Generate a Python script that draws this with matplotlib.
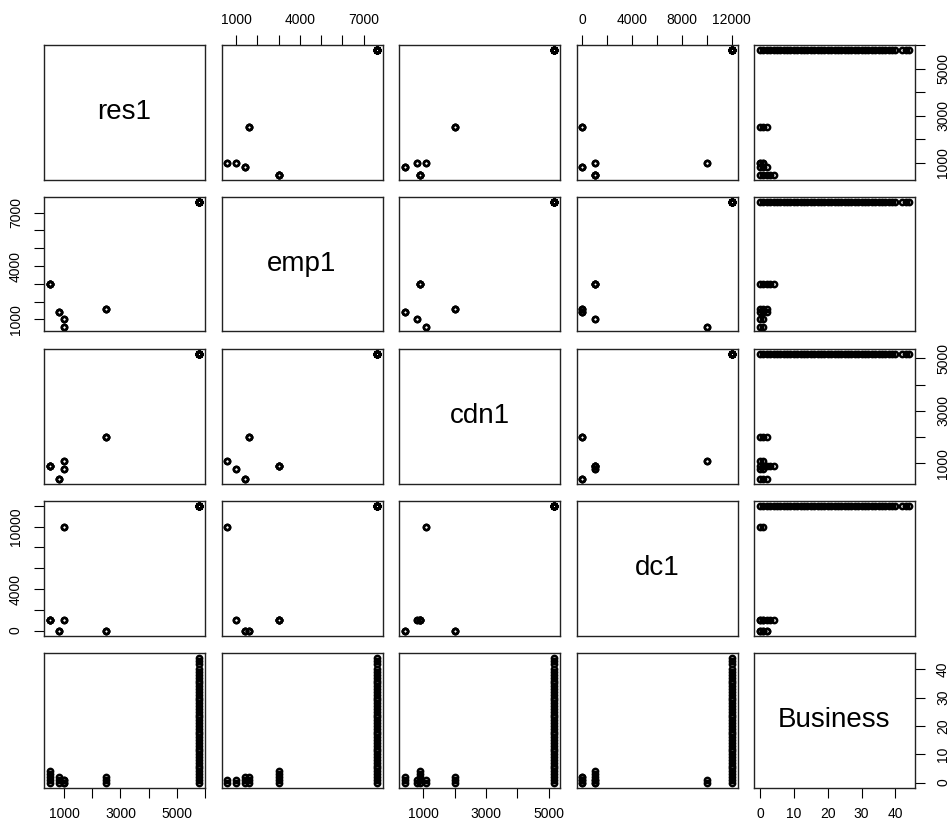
import matplotlib
matplotlib.use("Agg")
import matplotlib.pyplot as plt

plt.rcParams['font.family'] = ['Liberation Sans', 'DejaVu Sans']

# Variable names in the order of the scatterplot matrix
var_names = ['res1', 'emp1', 'cdn1', 'dc1', 'Business']

# Six distinct site profiles (res1, emp1, cdn1, dc1 are constant within a profile)
res1_vals = [500, 820, 1000, 1000, 2500, 5790]
emp1_vals = [3000, 1400, 1000, 600, 1600, 7600]
cdn1_vals = [900, 420, 800, 1100, 2000, 5170]
dc1_vals = [1000, 0, 1000, 10000, 0, 12000]

# Business counts observed for each profile
business_a = [0, 1, 2, 3, 4]
business_b = [0, 1, 2]
business_c = [0, 1]
business_d = [0, 1]
business_e = [0, 1, 2]
business_f = [0, 1, 2, 3, 4, 5, 6, 7, 8, 9, 10, 11, 12, 13, 14, 15, 16, 17, 18,
              19, 20, 21, 22, 23, 24, 25, 26, 27, 28, 29, 30, 31, 32, 33, 34, 35,
              36, 37, 38, 39, 40, 42, 43, 44]
business_groups = [business_a, business_b, business_c, business_d, business_e, business_f]

# Axis ticks and which tick labels are printed
res1_ticks = [1000, 2000, 3000, 4000, 5000, 6000]
res1_labels = ['1000', '', '3000', '', '5000', '']
emp1_ticks = [1000, 2000, 3000, 4000, 5000, 6000, 7000]
emp1_labels = ['1000', '', '', '4000', '', '', '7000']
cdn1_ticks = [1000, 2000, 3000, 4000, 5000]
cdn1_labels = ['1000', '', '3000', '', '5000']
dc1_ticks = [0, 2000, 4000, 6000, 8000, 10000, 12000]
dc1_labels_top = ['0', '', '4000', '', '8000', '', '12000']
dc1_labels_left = ['0', '', '4000', '', '', '10000', '']
business_ticks = [0, 10, 20, 30, 40]
business_labels = ['0', '10', '20', '30', '40']

# Expand profiles into one record per observation
columns = {n: [] for n in var_names}
for k, blist in enumerate(business_groups):
    for b in blist:
        columns['res1'].append(res1_vals[k])
        columns['emp1'].append(emp1_vals[k])
        columns['cdn1'].append(cdn1_vals[k])
        columns['dc1'].append(dc1_vals[k])
        columns['Business'].append(b)

ticks = {
    'res1': (res1_ticks, res1_labels, res1_labels),
    'emp1': (emp1_ticks, emp1_labels, emp1_labels),
    'cdn1': (cdn1_ticks, cdn1_labels, cdn1_labels),
    'dc1': (dc1_ticks, dc1_labels_top, dc1_labels_left),
    'Business': (business_ticks, business_labels, business_labels),
}


def padded_range(vals):
    lo, hi = min(vals), max(vals)
    r = hi - lo
    return lo - 0.04 * r, hi + 0.04 * r


W, H = 950, 827
fig = plt.figure(figsize=(W / 100, H / 100), dpi=100)
fig.patch.set_facecolor('white')

n = len(var_names)
left0, top0 = 44, 45
col_step, row_step = 177.5, 152
pw, ph = 161, 134.5
tick_kw = dict(direction='out', length=7.2, width=0.8, labelsize=10,
               colors='black')

for i in range(n):
    for j in range(n):
        left = left0 + j * col_step
        top = top0 + i * row_step
        ax = fig.add_axes([left / W, 1 - (top + ph) / H, pw / W, ph / H])
        xname, yname = var_names[j], var_names[i]
        ax.set_xlim(*padded_range(columns[xname]))
        ax.set_ylim(*padded_range(columns[yname]))
        for s in ax.spines.values():
            s.set_linewidth(1.0)
            s.set_color('#222222')
        ax.set_xticks([])
        ax.set_yticks([])

        if i == j:
            ax.text(0.5, 0.5, xname, transform=ax.transAxes, ha='center',
                    va='center', fontsize=20)
        else:
            ax.plot(columns[xname], columns[yname], ls='none', marker='o',
                    mfc='none', mec='black', ms=3.8, mew=1.8)

        # Outer axes alternate between sides like a classic pairs plot
        if i == 0 and j % 2 == 1:
            t, lab_top, _ = ticks[xname]
            ax.xaxis.tick_top()
            ax.set_xticks(t)
            ax.set_xticklabels(lab_top)
            ax.tick_params(axis='x', pad=5.5, **tick_kw)
        if i == n - 1 and j % 2 == 0:
            t, lab, _ = ticks[xname]
            ax.xaxis.tick_bottom()
            ax.set_xticks(t)
            ax.set_xticklabels(lab)
            ax.tick_params(axis='x', pad=7, **tick_kw)
        if j == 0 and i % 2 == 1:
            t, _, lab_left = ticks[yname]
            ax.yaxis.tick_left()
            ax.set_yticks(t)
            ax.set_yticklabels(lab_left, rotation=90, va='center')
            ax.tick_params(axis='y', pad=8, **tick_kw)
        if j == n - 1 and i % 2 == 0:
            t, lab, _ = ticks[yname]
            ax.yaxis.tick_right()
            ax.set_yticks(t)
            ax.set_yticklabels(lab, rotation=90, va='center')
            ax.tick_params(axis='y', pad=8, **tick_kw)

fig.savefig('out.png', dpi=100, facecolor='white')
